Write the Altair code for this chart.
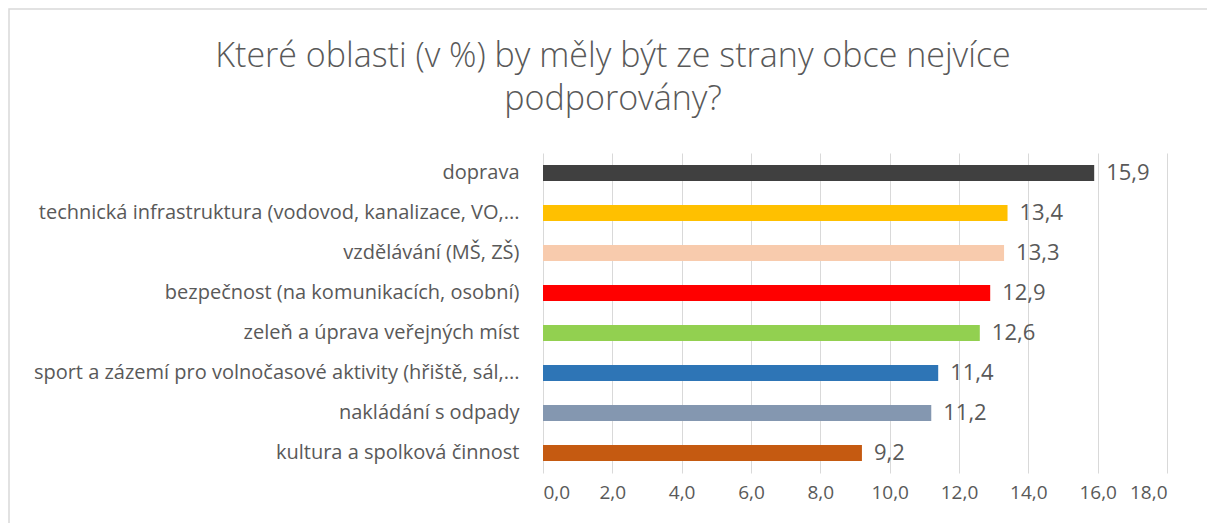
import altair as alt
import pandas as pd

categories = [
    "doprava",
    "technická infrastruktura (vodovod, kanalizace, VO,...",
    "vzdělávání (MŠ, ZŠ) ",
    "bezpečnost (na komunikacích, osobní)",
    "zeleň a úprava veřejných míst",
    "sport a zázemí pro volnočasové aktivity (hřiště, sál,...",
    "nakládání s odpady",
    "kultura a spolková činnost",
]
values = [15.9, 13.4, 13.3, 12.9, 12.6, 11.4, 11.2, 9.2]
colors = ["#404040", "#FFC000", "#F8CBAD", "#FF0000", "#92D050", "#2E75B6", "#8497B0", "#C55A11"]
x_ticks = [0, 2, 4, 6, 8, 10, 12, 14, 16, 18]
title_lines = ["Které oblasti (v %) by měly být ze strany obce nejvíce", "podporovány?"]

df = pd.DataFrame({"oblast": categories, "hodnota": values, "barva": colors})

FONT = "Open Sans"
GREY = "#595959"

y_enc = alt.Y(
    "oblast:N",
    sort=categories,
    scale=alt.Scale(paddingInner=0.6, paddingOuter=0.3),
    axis=alt.Axis(
        title=None, labelFontSize=20, labelColor=GREY, labelFont=FONT,
        labelLimit=700, labelPadding=24, ticks=False, domain=False, grid=False,
    ),
)
x_enc = alt.X(
    "hodnota:Q",
    scale=alt.Scale(domain=[0, 18], nice=False, zero=True),
    axis=alt.Axis(
        values=x_ticks, title=None, grid=True, gridColor="#D9D9D9", gridWidth=1,
        ticks=False, domain=False, labelFontSize=19, labelColor=GREY, labelFont=FONT,
        labelPadding=10,
        labelExpr="replace(format(datum.value, '.1f'), '.', ',')",
    ),
)

base = alt.Chart(df)

bars = base.mark_bar().encode(
    x=x_enc, y=y_enc, color=alt.Color("barva:N", scale=None)
)

text = base.transform_calculate(
    lbl="replace(format(datum.hodnota, '.1f'), '.', ',')"
).mark_text(
    align="left", baseline="middle", dx=12, fontSize=22, color=GREY, font=FONT
).encode(
    x="hodnota:Q", y=alt.Y("oblast:N", sort=categories), text="lbl:N"
)

title_layers = []
for line, ypix in zip(title_lines, [-96, -53]):
    title_layers.append(
        alt.Chart(pd.DataFrame({"line": [line]})).mark_text(
            align="center", baseline="middle", fontSize=34, color=GREY, font=FONT,
            fontWeight=300
        ).encode(x=alt.value(70), y=alt.value(ypix), text="line:N")
    )

border = alt.Chart(pd.DataFrame({"k": [0]})).mark_rect(
    fill="transparent", stroke="#D9D9D9", strokeWidth=1.5
).encode(
    x=alt.value(-534), x2=alt.value(700), y=alt.value(-144), y2=alt.value(420)
)

chart = alt.layer(border, *title_layers, bars, text).properties(
    width=624,
    height=320,
    autosize=alt.AutoSizeParams(type="none"),
    padding={"left": 535, "top": 145, "right": 40, "bottom": 50},
).configure_view(stroke=None)

chart.save("out.html", embed_options={"renderer": "svg", "actions": False})
